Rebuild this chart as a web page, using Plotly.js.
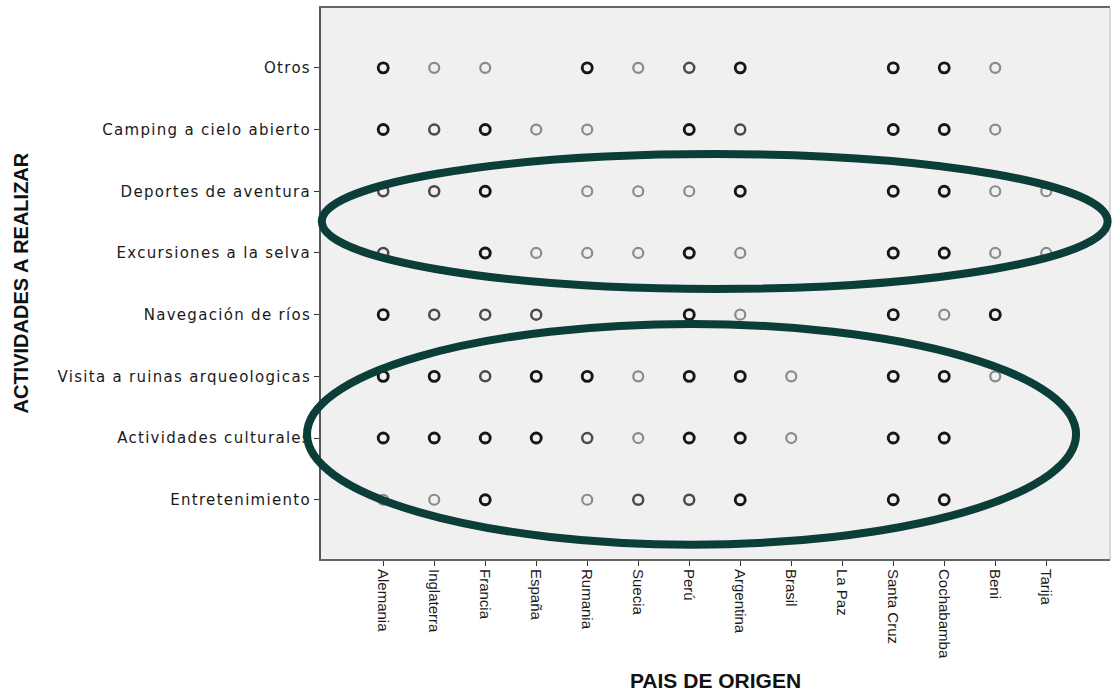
<!DOCTYPE html>
<html>
<head>
<meta charset="utf-8">
<script src="https://cdn.plot.ly/plotly-3.0.1.min.js"></script>
<style>
  html, body { margin: 0; padding: 0; background: #ffffff; }
  #chart { width: 1112px; height: 696px; }
  #chart .ytick text { letter-spacing: 1.3px; }
</style>
</head>
<body>
<div id="chart"></div>
<script>
// Countries of origin (x axis)
const countries = ["Alemania", "Inglaterra", "Francia", "España", "Rumania", "Suecia", "Perú",
                   "Argentina", "Brasil", "La Paz", "Santa Cruz", "Cochabamba", "Beni", "Tarija"];

// Activities (y axis), top to bottom
const activities = ["Otros", "Camping a cielo abierto", "Deportes de aventura", "Excursiones a la selva",
                    "Navegación de ríos", "Visita a ruinas arqueologicas", "Actividades culturales", "Entretenimiento"];

// Axis titles
const xTitle = "PAIS DE ORIGEN";
const yTitle = "ACTIVIDADES A REALIZAR";

// Marker intensity per country (0 = none, 1 = light, 2 = medium, 3 = dark)
const otros           = [3, 1, 1, 0, 3, 1, 2, 3, 0, 0, 3, 3, 1, 0];
const camping         = [3, 2, 3, 1, 1, 0, 3, 2, 0, 0, 3, 3, 1, 0];
const deportes        = [2, 2, 3, 0, 1, 1, 1, 3, 0, 0, 3, 3, 1, 1];
const excursiones     = [2, 0, 3, 1, 1, 1, 3, 1, 0, 0, 3, 3, 1, 1];
const navegacion      = [3, 2, 2, 2, 0, 0, 3, 1, 0, 0, 3, 1, 3, 0];
const visitaRuinas    = [3, 3, 2, 3, 3, 1, 3, 3, 1, 0, 3, 3, 1, 0];
const culturales      = [3, 3, 3, 3, 2, 1, 3, 3, 1, 0, 3, 3, 0, 0];
const entretenimiento = [1, 1, 3, 0, 1, 2, 2, 3, 0, 0, 3, 3, 0, 0];

const rows = [otros, camping, deportes, excursiones, navegacion, visitaRuinas, culturales, entretenimiento];

const shadeColors = {1: "#8a8a8a", 2: "#4a4a4a", 3: "#161616"};
const shadeWidths = {1: 2.2, 2: 2.5, 3: 2.9};

const traces = [];
[1, 2, 3].forEach(level => {
  const xs = [], ys = [];
  rows.forEach((row, r) => {
    row.forEach((v, c) => {
      if (v === level) { xs.push(countries[c]); ys.push(activities[r]); }
    });
  });
  traces.push({
    type: "scatter",
    mode: "markers",
    x: xs,
    y: ys,
    hoverinfo: "skip",
    showlegend: false,
    marker: {
      symbol: "circle-open",
      size: 10,
      color: shadeColors[level],
      line: {width: shadeWidths[level], color: shadeColors[level]}
    }
  });
});

const ellipseColor = "#0b3d39";

const layout = {
  width: 1112,
  height: 696,
  margin: {l: 321, r: 2, t: 8, b: 137},
  paper_bgcolor: "#ffffff",
  plot_bgcolor: "#f0f0f0",
  showlegend: false,
  xaxis: {
    type: "category",
    categoryorder: "array",
    categoryarray: countries,
    range: [-1.22, 14.25],
    showgrid: false,
    zeroline: false,
    showline: true,
    mirror: true,
    linecolor: "#666666",
    linewidth: 2,
    ticks: "outside",
    ticklen: 5,
    tickcolor: "#333333",
    tickangle: 90,
    tickfont: {family: "Liberation Sans, Arial, sans-serif", size: 15, color: "#1a1a1a"},
    title: {
      text: xTitle,
      font: {family: "Liberation Sans, Arial, sans-serif", size: 21, color: "#111111", weight: "bold"},
      standoff: 15
    },
    automargin: false,
    fixedrange: true
  },
  yaxis: {
    type: "category",
    categoryorder: "array",
    categoryarray: activities.slice().reverse(),
    range: [-0.96, 7.97],
    showgrid: false,
    zeroline: false,
    showline: true,
    mirror: false,
    linecolor: "#555555",
    linewidth: 2,
    ticks: "outside",
    ticklen: 5,
    tickcolor: "#333333",
    tickfont: {family: "DejaVu Sans, Verdana, sans-serif", size: 15, color: "#1a1a1a"},
    automargin: false,
    fixedrange: true
  },
  annotations: [
    {
      text: yTitle,
      xref: "paper", yref: "paper",
      x: (20 - 321) / 789, y: 0.5,
      xanchor: "center", yanchor: "middle",
      textangle: -90,
      showarrow: false,
      font: {family: "Liberation Sans, Arial, sans-serif", size: 20, color: "#111111", weight: "bold"}
    }
  ],
  shapes: [
    {
      type: "line", xref: "paper", yref: "paper",
      x0: 1, x1: 1, y0: 0, y1: 1,
      line: {color: "#d8d8d8", width: 2}
    },
    {
      type: "circle", xref: "paper", yref: "paper", layer: "above",
      x0: 0.001, x1: 0.997, y0: 0.49, y1: 0.735,
      line: {color: ellipseColor, width: 8}
    },
    {
      type: "circle", xref: "paper", yref: "paper", layer: "above",
      x0: -0.0177, x1: 0.957, y0: 0.026, y1: 0.4265,
      line: {color: ellipseColor, width: 8}
    }
  ]
};

Plotly.newPlot("chart", traces, layout, {displayModeBar: false, staticPlot: true});
</script>
</body>
</html>
